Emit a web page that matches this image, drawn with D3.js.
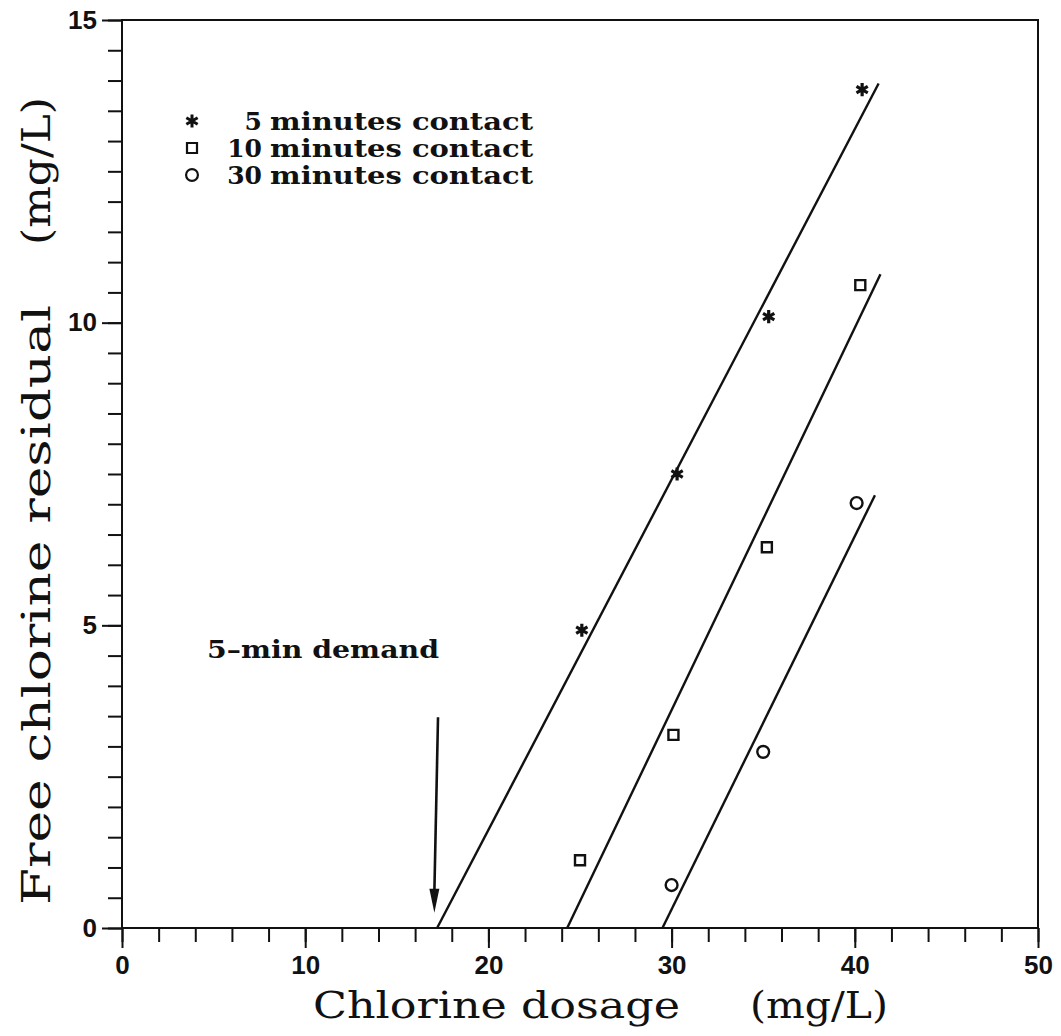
<!DOCTYPE html>
<html>
<head>
<meta charset="utf-8">
<script src="https://cdn.jsdelivr.net/npm/d3@7"></script>
<style>
  body { margin: 0; background: #fff; }
  svg { display: block; }
</style>
</head>
<body>
<svg id="chart" width="1061" height="1036"></svg>
<script>
// data
var dosage5 = [25.1, 30.3, 35.3, 40.4];
var resid5 = [4.92, 7.5, 10.1, 13.85];
var dosage10 = [25.0, 30.1, 35.2, 40.3];
var resid10 = [1.12, 3.19, 6.29, 10.62];
var dosage30 = [30.0, 35.0, 40.1];
var resid30 = [0.71, 2.91, 7.02];

// fitted lines: start / end points (dosage, residual)
var fit5X = [17.2, 41.3], fit5Y = [0, 13.95];
var fit10X = [24.3, 41.4], fit10Y = [0, 10.8];
var fit30X = [29.5, 41.1], fit30Y = [0, 7.15];

// demand arrow
var arrowX = [17.25, 17.05], arrowY = [3.48, 0.25];

var xMajor = [0, 10, 20, 30, 40, 50];
var yMajor = [0, 5, 10, 15];
var legendLabels = [" 5 minutes contact", "10 minutes contact", "30 minutes contact"];

var svgContainer = d3.select("#chart");

var x = d3.scaleLinear().domain([0, 50]).range([122, 1038]);
var y = d3.scaleLinear().domain([0, 15]).range([928, 20]);

var ink = "#111";
var serif = "'DejaVu Serif', 'Liberation Serif', serif";

// minor x ticks
var xMinor = svgContainer.append("g")
  .attr("transform", "translate(0,928)")
  .call(d3.axisBottom(x).tickValues(d3.range(0, 51, 2)).tickSize(14).tickFormat(""));
xMinor.select(".domain").remove();

var xAxis = svgContainer.append("g")
  .attr("transform", "translate(0,928)")
  .call(d3.axisBottom(x).tickValues(xMajor).tickSize(20).tickPadding(8).tickFormat(d3.format("d")));
xAxis.select(".domain").remove();

var yMinor = svgContainer.append("g")
  .attr("transform", "translate(122,0)")
  .call(d3.axisLeft(y).tickValues(d3.range(0, 15.01, 0.5)).tickSize(14).tickFormat(""));
yMinor.select(".domain").remove();

var yAxis = svgContainer.append("g")
  .attr("transform", "translate(122,0)")
  .call(d3.axisLeft(y).tickValues(yMajor).tickSize(20).tickPadding(5).tickFormat(d3.format("d")));
yAxis.select(".domain").remove();

svgContainer.selectAll(".tick line")
  .attr("stroke", ink)
  .attr("stroke-width", 2);
svgContainer.selectAll(".tick text")
  .attr("fill", ink)
  .attr("font-family", "'Liberation Sans', Arial, sans-serif")
  .attr("font-weight", "bold")
  .attr("font-size", 26);

// frame
svgContainer.append("rect")
  .attr("x", x(0))
  .attr("y", y(15))
  .attr("width", x(50) - x(0))
  .attr("height", y(0) - y(15))
  .attr("fill", "none")
  .attr("stroke", ink)
  .attr("stroke-width", 2);

// fitted lines
var fits = [[fit5X, fit5Y], [fit10X, fit10Y], [fit30X, fit30Y]];
fits.forEach(function (f) {
  svgContainer.append("line")
    .attr("x1", x(f[0][0]))
    .attr("y1", y(f[1][0]))
    .attr("x2", x(f[0][1]))
    .attr("y2", y(f[1][1]))
    .attr("stroke", ink)
    .attr("stroke-width", 2.4);
});

// markers
var starSym = d3.symbol().type(d3.symbolAsterisk).size(120);
var squareSym = d3.symbol().type(d3.symbolSquare).size(100);
var circleSym = d3.symbol().type(d3.symbolCircle).size(110);

function drawPoints(xs, ys, sym, isStar) {
  xs.forEach(function (d, i) {
    svgContainer.append("path")
      .attr("d", sym())
      .attr("transform", "translate(" + x(d) + "," + y(ys[i]) + ")")
      .attr("fill", "none")
      .attr("stroke", ink)
      .attr("stroke-width", isStar ? 3.2 : 2.4);
  });
}
drawPoints(dosage5, resid5, starSym, true);
drawPoints(dosage10, resid10, squareSym, false);
drawPoints(dosage30, resid30, circleSym, false);

// legend
var legendSyms = [starSym, squareSym, circleSym];
legendLabels.forEach(function (t, i) {
  var ly = 121 + i * 27;
  svgContainer.append("path")
    .attr("d", legendSyms[i]())
    .attr("transform", "translate(192," + ly + ")")
    .attr("fill", "none")
    .attr("stroke", ink)
    .attr("stroke-width", i === 0 ? 3 : 2.2);
  var parts = t.trim().split(" ");
  // number right-aligned, words at a fixed column
  svgContainer.append("text")
    .attr("x", 262)
    .attr("y", ly + 9)
    .attr("text-anchor", "end")
    .attr("fill", ink)
    .style("font-family", serif)
    .style("font-weight", "bold")
    .style("font-size", "25px")
    .text(parts[0]);
  svgContainer.append("text")
    .attr("x", 270)
    .attr("y", ly + 9)
    .attr("fill", ink)
    .attr("textLength", 263)
    .attr("lengthAdjust", "spacingAndGlyphs")
    .style("font-family", serif)
    .style("font-weight", "bold")
    .style("font-size", "25px")
    .text(parts[1] + "  " + parts[2]);
});

// arrow + annotation
var arrowG = svgContainer.append("g");
arrowG.append("line")
  .attr("x1", x(arrowX[0]))
  .attr("y1", y(arrowY[0]))
  .attr("x2", x(arrowX[1]))
  .attr("y2", y(arrowY[1]) - 20)
  .attr("stroke", ink)
  .attr("stroke-width", 2.6);
var tipX = x(arrowX[1]), tipY = y(arrowY[1]);
arrowG.append("path")
  .attr("d", "M" + (tipX - 5) + "," + (tipY - 24) + " L" + tipX + "," + tipY + " L" + (tipX + 5) + "," + (tipY - 24) + " Z")
  .attr("fill", ink);

svgContainer.append("text")
  .attr("x", 207)
  .attr("y", 658)
  .attr("fill", ink)
  .attr("textLength", 232)
  .attr("lengthAdjust", "spacingAndGlyphs")
  .style("font-family", serif)
  .style("font-weight", "bold")
  .style("font-size", "25px")
  .text("5\u2013min  demand");

// axis titles
svgContainer.append("text")
  .attr("x", 313)
  .attr("y", 1018)
  .attr("fill", ink)
  .attr("textLength", 367)
  .attr("lengthAdjust", "spacingAndGlyphs")
  .style("font-family", serif)
  .style("font-size", "38px")
  .text("Chlorine dosage");
svgContainer.append("text")
  .attr("x", 750)
  .attr("y", 1018)
  .attr("fill", ink)
  .attr("textLength", 138)
  .attr("lengthAdjust", "spacingAndGlyphs")
  .style("font-family", serif)
  .style("font-size", "38px")
  .text("(mg/L)");

var yTitle = svgContainer.append("g")
  .attr("transform", "translate(50,0) rotate(-90)");
yTitle.append("text")
  .attr("x", -905)
  .attr("y", 0)
  .attr("fill", ink)
  .attr("textLength", 600)
  .attr("lengthAdjust", "spacingAndGlyphs")
  .style("font-family", serif)
  .style("font-size", "40px")
  .text("Free chlorine residual");
yTitle.append("text")
  .attr("x", -245)
  .attr("y", 0)
  .attr("fill", ink)
  .attr("textLength", 148)
  .attr("lengthAdjust", "spacingAndGlyphs")
  .style("font-family", serif)
  .style("font-size", "40px")
  .text("(mg/L)");
</script>
</body>
</html>
